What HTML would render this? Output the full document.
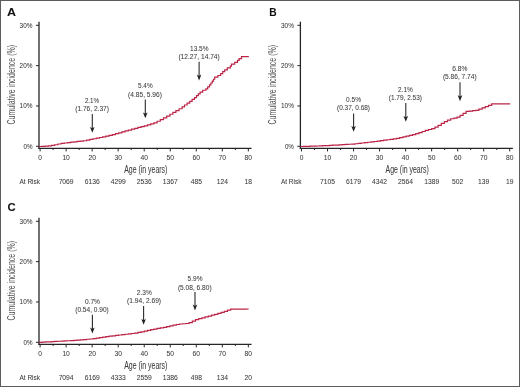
<!DOCTYPE html>
<html><head><meta charset="utf-8"><style>
html,body{margin:0;padding:0;background:#fff;}
body{width:520px;height:387px;overflow:hidden;}
svg{display:block;font-family:"Liberation Sans", sans-serif;}
#w{width:520px;height:387px;will-change:transform;}
text{stroke:#3a3a3a;stroke-width:0.05px;}
</style></head><body><div id="w">
<svg width="520" height="387" viewBox="0 0 520 387">
<g>
<rect x="0" y="0" width="520" height="387" fill="#fff"/>
<text x="7.00" y="15.60" font-size="11.2" font-weight="bold" fill="#111" textLength="9.0" lengthAdjust="spacingAndGlyphs">A</text>
<text transform="translate(14.80,84.70) rotate(-90)" x="0" y="0" text-anchor="middle" font-size="10" fill="#505050" style="stroke:none" textLength="79.5" lengthAdjust="spacingAndGlyphs">Cumulative incidence (%)</text>
<line x1="39.00" y1="21.70" x2="39.00" y2="148.90" stroke="#262626" stroke-width="1.3"/>
<line x1="36.00" y1="146.30" x2="39.00" y2="146.30" stroke="#262626" stroke-width="1"/>
<text x="32.50" y="148.80" text-anchor="end" font-size="7" fill="#3a3a3a" textLength="9.0" lengthAdjust="spacingAndGlyphs">0%</text>
<line x1="36.00" y1="105.97" x2="39.00" y2="105.97" stroke="#262626" stroke-width="1"/>
<text x="32.50" y="108.47" text-anchor="end" font-size="7" fill="#3a3a3a" textLength="12.9" lengthAdjust="spacingAndGlyphs">10%</text>
<line x1="36.00" y1="65.64" x2="39.00" y2="65.64" stroke="#262626" stroke-width="1"/>
<text x="32.50" y="68.14" text-anchor="end" font-size="7" fill="#3a3a3a" textLength="12.9" lengthAdjust="spacingAndGlyphs">20%</text>
<line x1="36.00" y1="25.31" x2="39.00" y2="25.31" stroke="#262626" stroke-width="1"/>
<text x="32.50" y="27.81" text-anchor="end" font-size="7" fill="#3a3a3a" textLength="12.9" lengthAdjust="spacingAndGlyphs">30%</text>
<line x1="38.40" y1="148.40" x2="251.50" y2="148.40" stroke="#262626" stroke-width="1.3"/>
<line x1="40.10" y1="148.40" x2="40.10" y2="151.40" stroke="#262626" stroke-width="1"/>
<line x1="53.12" y1="148.40" x2="53.12" y2="150.00" stroke="#262626" stroke-width="1"/>
<text x="40.10" y="160.40" text-anchor="middle" font-size="7" fill="#3a3a3a" textLength="3.7" lengthAdjust="spacingAndGlyphs">0</text>
<line x1="66.13" y1="148.40" x2="66.13" y2="151.40" stroke="#262626" stroke-width="1"/>
<line x1="79.14" y1="148.40" x2="79.14" y2="150.00" stroke="#262626" stroke-width="1"/>
<text x="66.13" y="160.40" text-anchor="middle" font-size="7" fill="#3a3a3a" textLength="7.5" lengthAdjust="spacingAndGlyphs">10</text>
<line x1="92.16" y1="148.40" x2="92.16" y2="151.40" stroke="#262626" stroke-width="1"/>
<line x1="105.17" y1="148.40" x2="105.17" y2="150.00" stroke="#262626" stroke-width="1"/>
<text x="92.16" y="160.40" text-anchor="middle" font-size="7" fill="#3a3a3a" textLength="7.5" lengthAdjust="spacingAndGlyphs">20</text>
<line x1="118.19" y1="148.40" x2="118.19" y2="151.40" stroke="#262626" stroke-width="1"/>
<line x1="131.20" y1="148.40" x2="131.20" y2="150.00" stroke="#262626" stroke-width="1"/>
<text x="118.19" y="160.40" text-anchor="middle" font-size="7" fill="#3a3a3a" textLength="7.5" lengthAdjust="spacingAndGlyphs">30</text>
<line x1="144.22" y1="148.40" x2="144.22" y2="151.40" stroke="#262626" stroke-width="1"/>
<line x1="157.24" y1="148.40" x2="157.24" y2="150.00" stroke="#262626" stroke-width="1"/>
<text x="144.22" y="160.40" text-anchor="middle" font-size="7" fill="#3a3a3a" textLength="7.5" lengthAdjust="spacingAndGlyphs">40</text>
<line x1="170.25" y1="148.40" x2="170.25" y2="151.40" stroke="#262626" stroke-width="1"/>
<line x1="183.26" y1="148.40" x2="183.26" y2="150.00" stroke="#262626" stroke-width="1"/>
<text x="170.25" y="160.40" text-anchor="middle" font-size="7" fill="#3a3a3a" textLength="7.5" lengthAdjust="spacingAndGlyphs">50</text>
<line x1="196.28" y1="148.40" x2="196.28" y2="151.40" stroke="#262626" stroke-width="1"/>
<line x1="209.30" y1="148.40" x2="209.30" y2="150.00" stroke="#262626" stroke-width="1"/>
<text x="196.28" y="160.40" text-anchor="middle" font-size="7" fill="#3a3a3a" textLength="7.5" lengthAdjust="spacingAndGlyphs">60</text>
<line x1="222.31" y1="148.40" x2="222.31" y2="151.40" stroke="#262626" stroke-width="1"/>
<line x1="235.32" y1="148.40" x2="235.32" y2="150.00" stroke="#262626" stroke-width="1"/>
<text x="222.31" y="160.40" text-anchor="middle" font-size="7" fill="#3a3a3a" textLength="7.5" lengthAdjust="spacingAndGlyphs">70</text>
<line x1="248.34" y1="148.40" x2="248.34" y2="151.40" stroke="#262626" stroke-width="1"/>
<text x="248.34" y="160.40" text-anchor="middle" font-size="7" fill="#3a3a3a" textLength="7.5" lengthAdjust="spacingAndGlyphs">80</text>
<text x="124.20" y="173.20" font-size="10" fill="#3a3a3a" textLength="43.2" lengthAdjust="spacingAndGlyphs">Age (in years)</text>
<text x="19.50" y="183.70" font-size="7" fill="#3a3a3a" textLength="20.5" lengthAdjust="spacingAndGlyphs">At Risk</text>
<text x="66.13" y="183.70" text-anchor="middle" font-size="7" fill="#3a3a3a" textLength="15.00" lengthAdjust="spacingAndGlyphs">7069</text>
<text x="92.16" y="183.70" text-anchor="middle" font-size="7" fill="#3a3a3a" textLength="15.00" lengthAdjust="spacingAndGlyphs">6136</text>
<text x="118.19" y="183.70" text-anchor="middle" font-size="7" fill="#3a3a3a" textLength="15.00" lengthAdjust="spacingAndGlyphs">4299</text>
<text x="144.22" y="183.70" text-anchor="middle" font-size="7" fill="#3a3a3a" textLength="15.00" lengthAdjust="spacingAndGlyphs">2536</text>
<text x="170.25" y="183.70" text-anchor="middle" font-size="7" fill="#3a3a3a" textLength="15.00" lengthAdjust="spacingAndGlyphs">1367</text>
<text x="196.28" y="183.70" text-anchor="middle" font-size="7" fill="#3a3a3a" textLength="11.25" lengthAdjust="spacingAndGlyphs">485</text>
<text x="222.31" y="183.70" text-anchor="middle" font-size="7" fill="#3a3a3a" textLength="11.25" lengthAdjust="spacingAndGlyphs">124</text>
<text x="248.34" y="183.70" text-anchor="middle" font-size="7" fill="#3a3a3a" textLength="7.50" lengthAdjust="spacingAndGlyphs">18</text>
<path d="M39.00,146.50H41.90V146.29H45.10V146.09H48.30V145.88H51.50V145.40H54.70V144.73H57.90V144.00H61.10V143.44H64.30V143.01H67.50V142.58H70.70V142.18H73.90V141.82H77.10V141.46H80.30V141.11H83.50V140.76H86.70V140.04H89.90V139.32H93.10V138.74H96.30V138.14H99.50V137.50H102.70V136.82H105.90V136.08H109.10V135.33H112.30V134.59H115.50V133.71H118.70V132.79H121.90V131.87H125.10V130.96H128.30V130.07H131.50V129.18H134.70V128.29H137.90V127.44H141.10V126.62H144.30V125.79H147.50V124.94H150.70V123.88H153.90V122.83H157.10V121.23H160.30V119.60H163.50V117.89H166.70V116.15H169.90V114.27H172.90V112.43H175.90V110.61H179.10V108.74H182.10V106.94H184.50V105.00H187.10V103.15H189.70V101.35H192.10V99.47H194.50V97.54H196.50V95.70H198.30V93.90H200.10V92.10H202.70V90.24H205.90V88.88H207.70V86.86H209.50V84.84H210.90V83.01H212.30V81.11H213.50V79.27H214.70V77.21H217.90V75.50H220.70V73.53H222.70V71.69H224.70V69.85H227.30V67.97H230.30V66.06H231.50V64.11H234.70V62.42H237.50V60.40H239.10V58.58H241.50V56.70H244.70V56.70H247.90V56.70H248.80" fill="none" stroke="#bb2446" stroke-width="1.2" stroke-linejoin="miter"/>
<text x="84.90" y="102.90" font-size="7" fill="#3a3a3a" textLength="14.20" lengthAdjust="spacingAndGlyphs">2.1%</text>
<text x="75.20" y="111.00" font-size="7" fill="#3a3a3a" textLength="33.80" lengthAdjust="spacingAndGlyphs">(1.76, 2.37)</text>
<line x1="92.30" y1="113.90" x2="92.30" y2="129.30" stroke="#2a2a2a" stroke-width="1.1"/>
<path d="M90.00,126.90L92.30,128.20L94.60,126.90L92.30,132.80Z" fill="#222"/>
<text x="138.00" y="88.40" font-size="7" fill="#3a3a3a" textLength="14.60" lengthAdjust="spacingAndGlyphs">5.4%</text>
<text x="128.10" y="96.60" font-size="7" fill="#3a3a3a" textLength="33.80" lengthAdjust="spacingAndGlyphs">(4.85, 5.96)</text>
<line x1="145.30" y1="99.50" x2="145.30" y2="114.80" stroke="#2a2a2a" stroke-width="1.1"/>
<path d="M143.00,112.40L145.30,113.70L147.60,112.40L145.30,118.30Z" fill="#222"/>
<text x="190.00" y="51.20" font-size="7" fill="#3a3a3a" textLength="18.50" lengthAdjust="spacingAndGlyphs">13.5%</text>
<text x="178.40" y="59.30" font-size="7" fill="#3a3a3a" textLength="41.40" lengthAdjust="spacingAndGlyphs">(12.27, 14.74)</text>
<line x1="199.10" y1="61.70" x2="199.10" y2="77.00" stroke="#2a2a2a" stroke-width="1.1"/>
<path d="M196.80,74.60L199.10,75.90L201.40,74.60L199.10,80.50Z" fill="#222"/>
<text x="269.30" y="15.60" font-size="11.2" font-weight="bold" fill="#111" textLength="7.4" lengthAdjust="spacingAndGlyphs">B</text>
<text transform="translate(276.20,84.70) rotate(-90)" x="0" y="0" text-anchor="middle" font-size="10" fill="#505050" style="stroke:none" textLength="79.5" lengthAdjust="spacingAndGlyphs">Cumulative incidence (%)</text>
<line x1="300.40" y1="21.70" x2="300.40" y2="148.90" stroke="#262626" stroke-width="1.3"/>
<line x1="297.40" y1="146.30" x2="300.40" y2="146.30" stroke="#262626" stroke-width="1"/>
<text x="293.90" y="148.80" text-anchor="end" font-size="7" fill="#3a3a3a" textLength="9.0" lengthAdjust="spacingAndGlyphs">0%</text>
<line x1="297.40" y1="105.97" x2="300.40" y2="105.97" stroke="#262626" stroke-width="1"/>
<text x="293.90" y="108.47" text-anchor="end" font-size="7" fill="#3a3a3a" textLength="12.9" lengthAdjust="spacingAndGlyphs">10%</text>
<line x1="297.40" y1="65.64" x2="300.40" y2="65.64" stroke="#262626" stroke-width="1"/>
<text x="293.90" y="68.14" text-anchor="end" font-size="7" fill="#3a3a3a" textLength="12.9" lengthAdjust="spacingAndGlyphs">20%</text>
<line x1="297.40" y1="25.31" x2="300.40" y2="25.31" stroke="#262626" stroke-width="1"/>
<text x="293.90" y="27.81" text-anchor="end" font-size="7" fill="#3a3a3a" textLength="12.9" lengthAdjust="spacingAndGlyphs">30%</text>
<line x1="299.80" y1="148.40" x2="512.90" y2="148.40" stroke="#262626" stroke-width="1.3"/>
<line x1="301.50" y1="148.40" x2="301.50" y2="151.40" stroke="#262626" stroke-width="1"/>
<line x1="314.51" y1="148.40" x2="314.51" y2="150.00" stroke="#262626" stroke-width="1"/>
<text x="301.50" y="160.40" text-anchor="middle" font-size="7" fill="#3a3a3a" textLength="3.7" lengthAdjust="spacingAndGlyphs">0</text>
<line x1="327.53" y1="148.40" x2="327.53" y2="151.40" stroke="#262626" stroke-width="1"/>
<line x1="340.54" y1="148.40" x2="340.54" y2="150.00" stroke="#262626" stroke-width="1"/>
<text x="327.53" y="160.40" text-anchor="middle" font-size="7" fill="#3a3a3a" textLength="7.5" lengthAdjust="spacingAndGlyphs">10</text>
<line x1="353.56" y1="148.40" x2="353.56" y2="151.40" stroke="#262626" stroke-width="1"/>
<line x1="366.57" y1="148.40" x2="366.57" y2="150.00" stroke="#262626" stroke-width="1"/>
<text x="353.56" y="160.40" text-anchor="middle" font-size="7" fill="#3a3a3a" textLength="7.5" lengthAdjust="spacingAndGlyphs">20</text>
<line x1="379.59" y1="148.40" x2="379.59" y2="151.40" stroke="#262626" stroke-width="1"/>
<line x1="392.60" y1="148.40" x2="392.60" y2="150.00" stroke="#262626" stroke-width="1"/>
<text x="379.59" y="160.40" text-anchor="middle" font-size="7" fill="#3a3a3a" textLength="7.5" lengthAdjust="spacingAndGlyphs">30</text>
<line x1="405.62" y1="148.40" x2="405.62" y2="151.40" stroke="#262626" stroke-width="1"/>
<line x1="418.63" y1="148.40" x2="418.63" y2="150.00" stroke="#262626" stroke-width="1"/>
<text x="405.62" y="160.40" text-anchor="middle" font-size="7" fill="#3a3a3a" textLength="7.5" lengthAdjust="spacingAndGlyphs">40</text>
<line x1="431.65" y1="148.40" x2="431.65" y2="151.40" stroke="#262626" stroke-width="1"/>
<line x1="444.66" y1="148.40" x2="444.66" y2="150.00" stroke="#262626" stroke-width="1"/>
<text x="431.65" y="160.40" text-anchor="middle" font-size="7" fill="#3a3a3a" textLength="7.5" lengthAdjust="spacingAndGlyphs">50</text>
<line x1="457.68" y1="148.40" x2="457.68" y2="151.40" stroke="#262626" stroke-width="1"/>
<line x1="470.69" y1="148.40" x2="470.69" y2="150.00" stroke="#262626" stroke-width="1"/>
<text x="457.68" y="160.40" text-anchor="middle" font-size="7" fill="#3a3a3a" textLength="7.5" lengthAdjust="spacingAndGlyphs">60</text>
<line x1="483.71" y1="148.40" x2="483.71" y2="151.40" stroke="#262626" stroke-width="1"/>
<line x1="496.72" y1="148.40" x2="496.72" y2="150.00" stroke="#262626" stroke-width="1"/>
<text x="483.71" y="160.40" text-anchor="middle" font-size="7" fill="#3a3a3a" textLength="7.5" lengthAdjust="spacingAndGlyphs">70</text>
<line x1="509.74" y1="148.40" x2="509.74" y2="151.40" stroke="#262626" stroke-width="1"/>
<text x="509.74" y="160.40" text-anchor="middle" font-size="7" fill="#3a3a3a" textLength="7.5" lengthAdjust="spacingAndGlyphs">80</text>
<text x="385.60" y="173.20" font-size="10" fill="#3a3a3a" textLength="43.2" lengthAdjust="spacingAndGlyphs">Age (in years)</text>
<text x="280.90" y="183.70" font-size="7" fill="#3a3a3a" textLength="20.5" lengthAdjust="spacingAndGlyphs">At Risk</text>
<text x="327.53" y="183.70" text-anchor="middle" font-size="7" fill="#3a3a3a" textLength="15.00" lengthAdjust="spacingAndGlyphs">7105</text>
<text x="353.56" y="183.70" text-anchor="middle" font-size="7" fill="#3a3a3a" textLength="15.00" lengthAdjust="spacingAndGlyphs">6179</text>
<text x="379.59" y="183.70" text-anchor="middle" font-size="7" fill="#3a3a3a" textLength="15.00" lengthAdjust="spacingAndGlyphs">4342</text>
<text x="405.62" y="183.70" text-anchor="middle" font-size="7" fill="#3a3a3a" textLength="15.00" lengthAdjust="spacingAndGlyphs">2564</text>
<text x="431.65" y="183.70" text-anchor="middle" font-size="7" fill="#3a3a3a" textLength="15.00" lengthAdjust="spacingAndGlyphs">1389</text>
<text x="457.68" y="183.70" text-anchor="middle" font-size="7" fill="#3a3a3a" textLength="11.25" lengthAdjust="spacingAndGlyphs">502</text>
<text x="483.71" y="183.70" text-anchor="middle" font-size="7" fill="#3a3a3a" textLength="11.25" lengthAdjust="spacingAndGlyphs">139</text>
<text x="509.74" y="183.70" text-anchor="middle" font-size="7" fill="#3a3a3a" textLength="7.50" lengthAdjust="spacingAndGlyphs">19</text>
<path d="M300.40,146.50H303.70V146.40H306.90V146.31H310.10V146.21H313.30V146.12H316.50V146.02H319.70V145.87H322.90V145.70H326.10V145.54H329.30V145.37H332.50V145.21H335.70V145.04H338.90V144.85H342.10V144.64H345.30V144.44H348.50V144.24H351.70V144.03H354.90V143.77H358.10V143.39H361.30V143.01H364.50V142.63H367.70V142.25H370.90V141.87H374.10V141.49H377.30V141.07H380.50V140.62H383.70V140.17H386.90V139.73H390.10V139.28H393.30V138.84H396.50V138.29H399.70V137.62H402.90V136.95H406.10V136.22H409.30V135.42H412.50V134.62H415.70V133.68H418.90V132.58H422.10V131.48H425.30V130.45H428.50V129.49H431.70V128.54H434.90V127.19H438.10V125.32H441.30V123.43H444.30V121.62H447.50V120.13H450.70V118.74H453.90V118.11H457.10V117.22H460.10V115.30H463.10V113.38H466.10V111.46H469.30V111.04H472.50V110.68H475.70V110.31H478.90V109.13H482.10V107.93H485.30V106.65H488.50V105.31H491.70V103.97H494.90V103.80H498.10V103.80H501.30V103.80H504.50V103.80H507.70V103.80H510.20" fill="none" stroke="#bb2446" stroke-width="1.2" stroke-linejoin="miter"/>
<text x="346.10" y="101.80" font-size="7" fill="#3a3a3a" textLength="14.90" lengthAdjust="spacingAndGlyphs">0.5%</text>
<text x="337.10" y="110.30" font-size="7" fill="#3a3a3a" textLength="32.90" lengthAdjust="spacingAndGlyphs">(0.37, 0.68)</text>
<line x1="353.60" y1="113.60" x2="353.60" y2="128.30" stroke="#2a2a2a" stroke-width="1.1"/>
<path d="M351.30,125.90L353.60,127.20L355.90,125.90L353.60,131.80Z" fill="#222"/>
<text x="398.10" y="92.00" font-size="7" fill="#3a3a3a" textLength="14.80" lengthAdjust="spacingAndGlyphs">2.1%</text>
<text x="388.80" y="100.30" font-size="7" fill="#3a3a3a" textLength="33.20" lengthAdjust="spacingAndGlyphs">(1.79, 2.53)</text>
<line x1="405.80" y1="102.90" x2="405.80" y2="118.30" stroke="#2a2a2a" stroke-width="1.1"/>
<path d="M403.50,115.90L405.80,117.20L408.10,115.90L405.80,121.80Z" fill="#222"/>
<text x="452.30" y="71.20" font-size="7" fill="#3a3a3a" textLength="15.20" lengthAdjust="spacingAndGlyphs">6.8%</text>
<text x="442.90" y="79.30" font-size="7" fill="#3a3a3a" textLength="33.70" lengthAdjust="spacingAndGlyphs">(5.86, 7.74)</text>
<line x1="460.00" y1="82.30" x2="460.00" y2="97.70" stroke="#2a2a2a" stroke-width="1.1"/>
<path d="M457.70,95.30L460.00,96.60L462.30,95.30L460.00,101.20Z" fill="#222"/>
<text x="7.40" y="211.40" font-size="11.2" font-weight="bold" fill="#111" textLength="8.2" lengthAdjust="spacingAndGlyphs">C</text>
<text transform="translate(14.80,280.70) rotate(-90)" x="0" y="0" text-anchor="middle" font-size="10" fill="#505050" style="stroke:none" textLength="79.5" lengthAdjust="spacingAndGlyphs">Cumulative incidence (%)</text>
<line x1="39.00" y1="217.70" x2="39.00" y2="344.90" stroke="#262626" stroke-width="1.3"/>
<line x1="36.00" y1="342.30" x2="39.00" y2="342.30" stroke="#262626" stroke-width="1"/>
<text x="32.50" y="344.80" text-anchor="end" font-size="7" fill="#3a3a3a" textLength="9.0" lengthAdjust="spacingAndGlyphs">0%</text>
<line x1="36.00" y1="301.97" x2="39.00" y2="301.97" stroke="#262626" stroke-width="1"/>
<text x="32.50" y="304.47" text-anchor="end" font-size="7" fill="#3a3a3a" textLength="12.9" lengthAdjust="spacingAndGlyphs">10%</text>
<line x1="36.00" y1="261.64" x2="39.00" y2="261.64" stroke="#262626" stroke-width="1"/>
<text x="32.50" y="264.14" text-anchor="end" font-size="7" fill="#3a3a3a" textLength="12.9" lengthAdjust="spacingAndGlyphs">20%</text>
<line x1="36.00" y1="221.31" x2="39.00" y2="221.31" stroke="#262626" stroke-width="1"/>
<text x="32.50" y="223.81" text-anchor="end" font-size="7" fill="#3a3a3a" textLength="12.9" lengthAdjust="spacingAndGlyphs">30%</text>
<line x1="38.40" y1="344.40" x2="251.50" y2="344.40" stroke="#262626" stroke-width="1.3"/>
<line x1="40.10" y1="344.40" x2="40.10" y2="347.40" stroke="#262626" stroke-width="1"/>
<line x1="53.12" y1="344.40" x2="53.12" y2="346.00" stroke="#262626" stroke-width="1"/>
<text x="40.10" y="356.40" text-anchor="middle" font-size="7" fill="#3a3a3a" textLength="3.7" lengthAdjust="spacingAndGlyphs">0</text>
<line x1="66.13" y1="344.40" x2="66.13" y2="347.40" stroke="#262626" stroke-width="1"/>
<line x1="79.14" y1="344.40" x2="79.14" y2="346.00" stroke="#262626" stroke-width="1"/>
<text x="66.13" y="356.40" text-anchor="middle" font-size="7" fill="#3a3a3a" textLength="7.5" lengthAdjust="spacingAndGlyphs">10</text>
<line x1="92.16" y1="344.40" x2="92.16" y2="347.40" stroke="#262626" stroke-width="1"/>
<line x1="105.17" y1="344.40" x2="105.17" y2="346.00" stroke="#262626" stroke-width="1"/>
<text x="92.16" y="356.40" text-anchor="middle" font-size="7" fill="#3a3a3a" textLength="7.5" lengthAdjust="spacingAndGlyphs">20</text>
<line x1="118.19" y1="344.40" x2="118.19" y2="347.40" stroke="#262626" stroke-width="1"/>
<line x1="131.20" y1="344.40" x2="131.20" y2="346.00" stroke="#262626" stroke-width="1"/>
<text x="118.19" y="356.40" text-anchor="middle" font-size="7" fill="#3a3a3a" textLength="7.5" lengthAdjust="spacingAndGlyphs">30</text>
<line x1="144.22" y1="344.40" x2="144.22" y2="347.40" stroke="#262626" stroke-width="1"/>
<line x1="157.24" y1="344.40" x2="157.24" y2="346.00" stroke="#262626" stroke-width="1"/>
<text x="144.22" y="356.40" text-anchor="middle" font-size="7" fill="#3a3a3a" textLength="7.5" lengthAdjust="spacingAndGlyphs">40</text>
<line x1="170.25" y1="344.40" x2="170.25" y2="347.40" stroke="#262626" stroke-width="1"/>
<line x1="183.26" y1="344.40" x2="183.26" y2="346.00" stroke="#262626" stroke-width="1"/>
<text x="170.25" y="356.40" text-anchor="middle" font-size="7" fill="#3a3a3a" textLength="7.5" lengthAdjust="spacingAndGlyphs">50</text>
<line x1="196.28" y1="344.40" x2="196.28" y2="347.40" stroke="#262626" stroke-width="1"/>
<line x1="209.30" y1="344.40" x2="209.30" y2="346.00" stroke="#262626" stroke-width="1"/>
<text x="196.28" y="356.40" text-anchor="middle" font-size="7" fill="#3a3a3a" textLength="7.5" lengthAdjust="spacingAndGlyphs">60</text>
<line x1="222.31" y1="344.40" x2="222.31" y2="347.40" stroke="#262626" stroke-width="1"/>
<line x1="235.32" y1="344.40" x2="235.32" y2="346.00" stroke="#262626" stroke-width="1"/>
<text x="222.31" y="356.40" text-anchor="middle" font-size="7" fill="#3a3a3a" textLength="7.5" lengthAdjust="spacingAndGlyphs">70</text>
<line x1="248.34" y1="344.40" x2="248.34" y2="347.40" stroke="#262626" stroke-width="1"/>
<text x="248.34" y="356.40" text-anchor="middle" font-size="7" fill="#3a3a3a" textLength="7.5" lengthAdjust="spacingAndGlyphs">80</text>
<text x="124.20" y="369.20" font-size="10" fill="#3a3a3a" textLength="43.2" lengthAdjust="spacingAndGlyphs">Age (in years)</text>
<text x="19.50" y="379.70" font-size="7" fill="#3a3a3a" textLength="20.5" lengthAdjust="spacingAndGlyphs">At Risk</text>
<text x="66.13" y="379.70" text-anchor="middle" font-size="7" fill="#3a3a3a" textLength="15.00" lengthAdjust="spacingAndGlyphs">7094</text>
<text x="92.16" y="379.70" text-anchor="middle" font-size="7" fill="#3a3a3a" textLength="15.00" lengthAdjust="spacingAndGlyphs">6169</text>
<text x="118.19" y="379.70" text-anchor="middle" font-size="7" fill="#3a3a3a" textLength="15.00" lengthAdjust="spacingAndGlyphs">4333</text>
<text x="144.22" y="379.70" text-anchor="middle" font-size="7" fill="#3a3a3a" textLength="15.00" lengthAdjust="spacingAndGlyphs">2559</text>
<text x="170.25" y="379.70" text-anchor="middle" font-size="7" fill="#3a3a3a" textLength="15.00" lengthAdjust="spacingAndGlyphs">1386</text>
<text x="196.28" y="379.70" text-anchor="middle" font-size="7" fill="#3a3a3a" textLength="11.25" lengthAdjust="spacingAndGlyphs">498</text>
<text x="222.31" y="379.70" text-anchor="middle" font-size="7" fill="#3a3a3a" textLength="11.25" lengthAdjust="spacingAndGlyphs">134</text>
<text x="248.34" y="379.70" text-anchor="middle" font-size="7" fill="#3a3a3a" textLength="7.50" lengthAdjust="spacingAndGlyphs">20</text>
<path d="M39.00,342.30H41.90V342.13H45.10V341.95H48.30V341.78H51.50V341.60H54.70V341.43H57.90V341.26H61.10V341.09H64.30V340.93H67.50V340.76H70.70V340.60H73.90V340.43H77.10V340.16H80.30V339.86H83.50V339.57H86.70V339.27H89.90V338.98H93.10V338.59H96.30V338.09H99.50V337.58H102.70V337.07H105.90V336.61H109.10V336.22H112.30V335.82H115.50V335.42H118.70V335.02H121.90V334.65H125.10V334.27H128.30V333.89H131.50V333.51H134.70V333.05H137.90V332.47H141.10V331.86H144.30V331.10H147.50V330.35H150.70V329.68H153.90V329.03H157.10V328.46H160.30V327.95H163.50V327.44H166.70V326.70H169.90V325.83H173.10V325.17H176.30V324.51H179.50V324.01H182.70V323.76H185.90V323.52H189.10V322.62H192.30V321.16H195.50V319.70H198.70V318.65H201.90V317.80H205.10V316.96H208.30V316.09H211.50V315.21H214.70V314.33H217.90V313.36H221.10V312.38H224.30V311.39H227.50V310.19H230.70V309.10H233.90V309.08H237.10V309.06H240.30V309.05H243.50V309.03H246.70V309.01H248.70" fill="none" stroke="#bb2446" stroke-width="1.2" stroke-linejoin="miter"/>
<text x="84.90" y="303.60" font-size="7" fill="#3a3a3a" textLength="15.10" lengthAdjust="spacingAndGlyphs">0.7%</text>
<text x="75.20" y="311.70" font-size="7" fill="#3a3a3a" textLength="33.60" lengthAdjust="spacingAndGlyphs">(0.54, 0.90)</text>
<line x1="92.40" y1="314.70" x2="92.40" y2="330.00" stroke="#2a2a2a" stroke-width="1.1"/>
<path d="M90.10,327.60L92.40,328.90L94.70,327.60L92.40,333.50Z" fill="#222"/>
<text x="136.80" y="294.90" font-size="7" fill="#3a3a3a" textLength="14.90" lengthAdjust="spacingAndGlyphs">2.3%</text>
<text x="127.10" y="303.40" font-size="7" fill="#3a3a3a" textLength="34.00" lengthAdjust="spacingAndGlyphs">(1.94, 2.69)</text>
<line x1="143.60" y1="306.00" x2="143.60" y2="321.30" stroke="#2a2a2a" stroke-width="1.1"/>
<path d="M141.30,318.90L143.60,320.20L145.90,318.90L143.60,324.80Z" fill="#222"/>
<text x="187.60" y="281.20" font-size="7" fill="#3a3a3a" textLength="14.90" lengthAdjust="spacingAndGlyphs">5.9%</text>
<text x="177.90" y="289.70" font-size="7" fill="#3a3a3a" textLength="33.70" lengthAdjust="spacingAndGlyphs">(5.08, 6.80)</text>
<line x1="195.00" y1="291.90" x2="195.00" y2="307.00" stroke="#2a2a2a" stroke-width="1.1"/>
<path d="M192.70,304.60L195.00,305.90L197.30,304.60L195.00,310.50Z" fill="#222"/>
</g>
<rect x="0.5" y="0.5" width="519" height="386" fill="none" stroke="#5c5c5c" stroke-width="1"/>
</svg></div>
</body></html>
